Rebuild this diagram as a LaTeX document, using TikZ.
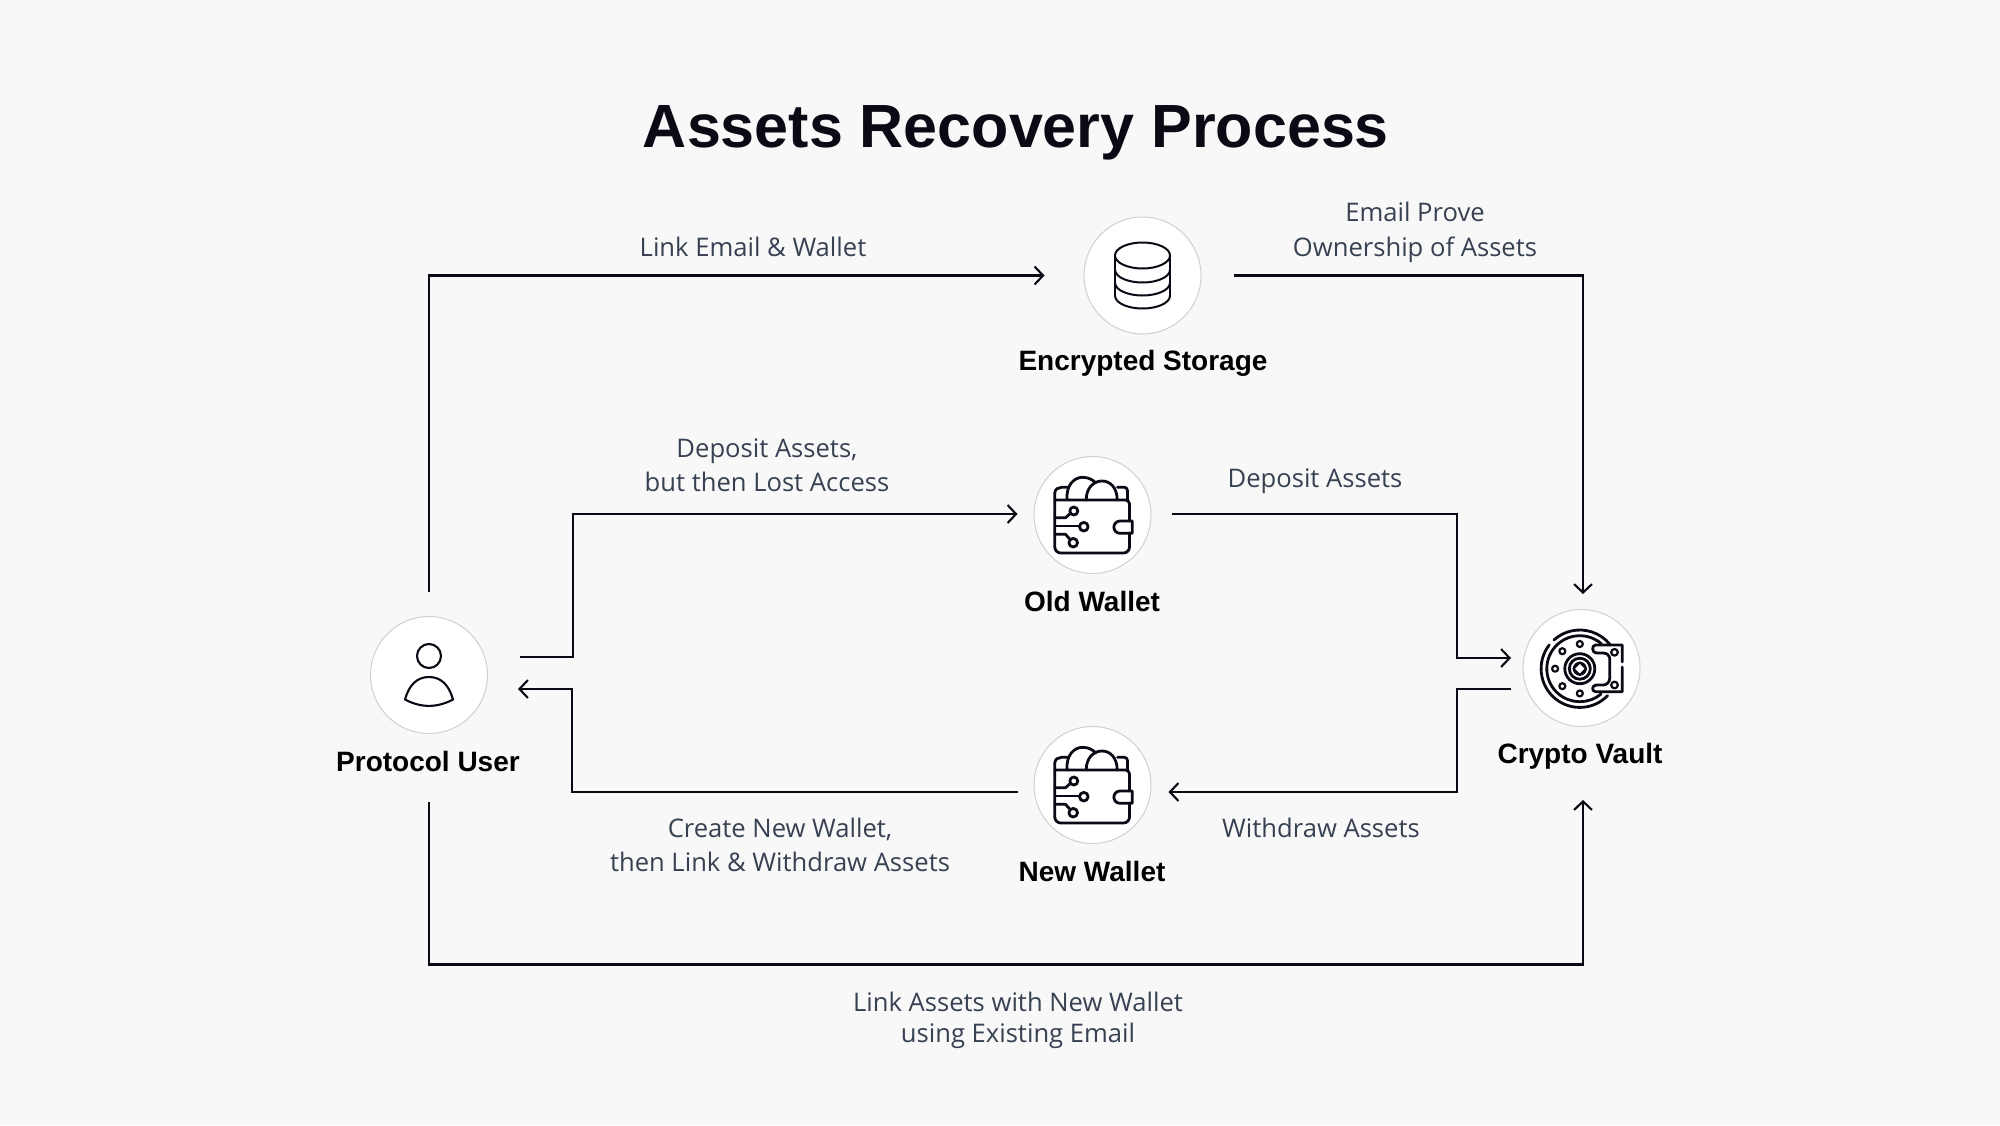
\documentclass[tikz,border=0pt]{standalone}
\usepackage{fontspec}
\setmainfont{Liberation Sans}
\newfontfamily\labelfont{Open Sans}
\usepackage{xcolor}
\usetikzlibrary{arrows.meta}
\definecolor{paper}{HTML}{F8F8F9}
\definecolor{ink}{HTML}{0A0A14}
\definecolor{labelgray}{HTML}{374151}
\definecolor{ringgray}{HTML}{D0D0D0}
\tikzset{flow/.style={draw=ink, line width=2.1pt, -{Straight Barb[length=8.5pt,width=18pt,line width=2.1pt]}}}
\tikzset{badge/.style={circle, draw=ringgray, line width=1pt, fill=white, minimum size=117pt, inner sep=0pt}}
\tikzset{actor/.style={font=\fontsize{28}{34}\selectfont\bfseries, text=black}}
\tikzset{note/.style={font=\labelfont\fontsize{25.6}{34.5}\selectfont, text=labelgray, align=center}}
\tikzset{glyph/.style={draw=ink, line width=2.8pt, line cap=round, line join=round}}

\begin{document}
\begin{tikzpicture}[x=1pt, y=-1pt]       % one unit is one pixel
    \fill[paper] (0, 0) rectangle (2000, 1125);
    \useasboundingbox (0, 0) rectangle (2000, 1125);

    \node[font=\fontsize{61}{70}\selectfont\bfseries, text=ink] at (1016, 133) (title) {Assets Recovery Process};

    \node[badge] at (429, 675) (user) {};
    \node[badge] at (1142.5, 275.5) (storage) {};
    \node[badge] at (1092.5, 515) (oldwallet) {};
    \node[badge] at (1092.5, 785) (newwallet) {};
    \node[badge] at (1581.5, 668) (vault) {};

    \node[actor] at (428, 761) (userlabel) {Protocol User};
    \node[actor] at (1143, 363) (storagelabel) {Encrypted Storage};
    \node[actor] at (1092, 601) (oldlabel) {Old Wallet};
    \node[actor] at (1092, 871) (newlabel) {New Wallet};
    \node[actor] at (1580, 756) (vaultlabel) {Crypto Vault};

    % connectors
    \draw[flow, shorten <=24pt, shorten >=39pt] (user.north) |- (storage.west);
    \draw[flow, shorten <=32pt, shorten >=15pt] (storage.east) -| ([xshift=1.5pt]vault.north);
    \draw[flow, shorten <=32pt, shorten >=16pt] ([yshift=18pt]user.east) -| (573, 514) -- ([yshift=1pt]oldwallet.west);
    \draw[flow, shorten <=20pt, shorten >=11.5pt] ([yshift=1pt]oldwallet.east) -| (1457, 658) -- ([yshift=10pt]vault.west);
    \draw[flow, shorten <=12pt, shorten >=17pt] ([yshift=-21pt]vault.west) -| (1457, 792) -- ([yshift=-7pt]newwallet.east);
    \draw[flow, shorten <=16pt, shorten >=30pt] ([yshift=-7pt]newwallet.west) -| (572, 689) -- ([yshift=-14pt]user.east);
    \draw[flow, shorten <=68pt, shorten >=73pt] (user.south) |- (1583, 964.5) -- ([xshift=1.5pt]vault.south);

    \node[note] at (753, 247) (linknote) {Link Email \& Wallet};
    \node[note] at (1415, 232.5) (provenote) {Email Prove\\Ownership of Assets};
    \node[note] at (767, 465) (depositnote) {Deposit Assets,\\but then Lost Access};
    \node[note] at (1315, 481) (depositbnote) {Deposit Assets};
    \node[note] at (780, 845) (createnote) {Create New Wallet,\\then Link \& Withdraw Assets};
    \node[note] at (1321, 828) (withdrawnote) {Withdraw Assets};
    \node[note, font=\labelfont\fontsize{25.6}{31}\selectfont] at (1018, 1020) (assetsnote) {Link Assets with New Wallet\\using Existing Email};

    % user icon
    \begin{scope}[shift={(user)}]
      \draw[glyph, line width=2.1pt] (0, -19) circle (12);
      \draw[glyph, line width=2.1pt] (-24, 24.5) .. controls (-20, 10) and (-12, 2) .. (0, 2) .. controls (12, 2) and (20, 10) .. (24, 24.5) .. controls (8, 33) and (-8, 33) .. cycle;
    \end{scope}

    % storage icon
    \begin{scope}[shift={(storage)}]
      \draw[glyph, line width=2pt] (0, -20) ellipse (27.5 and 13);
      \draw[glyph, line width=2pt] (-27.5, -20) -- (-27.5, 20) (27.5, -20) -- (27.5, 20);
      \foreach \yy in {-6, 7, 20} {
        \draw[glyph, line width=2pt] (-27.5, \yy) .. controls (-27.5, \yy+8) and (-14, \yy+13) .. (0, \yy+13) .. controls (14, \yy+13) and (27.5, \yy+8) .. (27.5, \yy);
      }
    \end{scope}

    % wallet icons
    \foreach \wallet in {oldwallet, newwallet} {
      \begin{scope}[shift={(\wallet)}]
        \draw[glyph] (37, 6) -- (37, -11) arc[start angle=0, end angle=-90, radius=4] -- (-37.7, -15) -- (-37.7, 32) arc[start angle=180, end angle=90, radius=6] -- (31, 38) arc[start angle=90, end angle=0, radius=6] -- (37, 18);
        \draw[glyph] (27.5, 6) -- (39.7, 6) -- (39.7, 18.3) -- (27.5, 18.3) arc[start angle=90, end angle=270, radius=6.15];
        \draw[glyph] (-37.7, -15) -- (-37.7, -22) .. controls (-37.7, -26) and (-34, -27.7) .. (-31, -27.7) -- (-25, -27.7);
        \draw[glyph] (25, -27.7) -- (32, -27.7) .. controls (34, -27.7) and (35, -26) .. (35, -24) -- (35, -15);
        \draw[glyph] (-25.3, -15) .. controls (-27, -30) and (-18, -37.7) .. (-10, -37.7) .. controls (-4, -37.7) and (1, -35) .. (3, -32);
        \draw[glyph] (-6.3, -15) .. controls (-6.3, -27) and (1, -34) .. (9.5, -34) .. controls (18, -34) and (24.7, -27) .. (24.7, -15);
        \draw[glyph] (-37.7, 2.7) -- (-27, 2.7) -- (-22, -1.7);
        \draw[glyph] (-18.7, -4) circle (4);
        \draw[glyph] (-37.7, 11) -- (-13, 11);
        \draw[glyph] (-8.7, 11.7) circle (4.3);
        \draw[glyph] (-37.7, 19.3) -- (-27, 19.3) -- (-22.5, 24.3);
        \draw[glyph] (-19.3, 27.7) circle (4.3);
      \end{scope}
    }

    % vault icon
    \begin{scope}[shift={(vault)}]
      \begin{scope}[shift={(-1.7, 0.7)}]
        \draw[glyph] (228:38.7) arc[start angle=228, end angle=322, radius=38.7];
        \draw[glyph] (218:38.7) arc[start angle=218, end angle=44, radius=38.7];
        \draw[glyph] (311:33) arc[start angle=311, end angle=50, radius=33];
        \draw[glyph] (0, 0) circle (15);
        \draw[glyph] (0, 0) circle (10.5);
        \draw[glyph, line width=2pt] (0, 0) circle (6);
        \draw[glyph, line width=2pt, rotate=45] (-4.5, -4.5) rectangle (4.5, 4.5);
        \foreach \ang in {90, 135, 180, 225, 270} {
          \draw[glyph, line width=2.2pt] (\ang:24.7) circle (3);
        }
      \end{scope}
      \draw[glyph] (40.7, -6) -- (40.7, -23) -- (14, -23) .. controls (10, -23) and (10, -15) .. (15, -15) -- (22, -15) .. controls (28, -15) and (28.3, -9) .. (28.3, -9) -- (28.3, 10) .. controls (28.3, 14) and (25, 17) .. (22, 17) -- (15, 17) .. controls (10, 17) and (10, 23.7) .. (14, 23.7) -- (40.7, 23.7) -- (40.7, -1);
      \draw[glyph, line width=2.2pt] (33, -15.7) circle (3.3);
      \draw[glyph, line width=2.2pt] (33, 17) circle (3.3);
    \end{scope}
\end{tikzpicture}
\end{document}
